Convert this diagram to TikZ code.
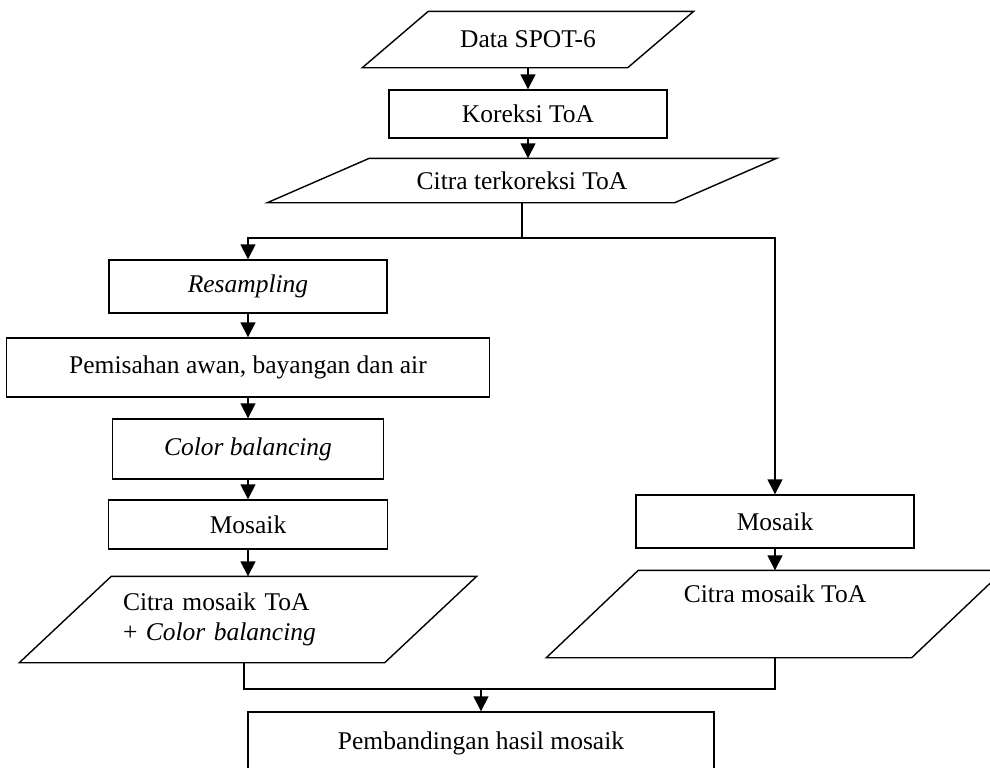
\documentclass[tikz,border=0pt]{standalone}
\usepackage{fontspec}
\setmainfont{Liberation Serif}
\usetikzlibrary{arrows.meta,calc}

\begin{document}
\begin{tikzpicture}[x=0.5pt,y=-0.5pt,line width=0.7pt,
    font=\fontsize{12.75}{15}\selectfont,
    proc/.style={draw,rectangle,inner sep=2pt},
    band/.style={rectangle,inner sep=2pt},
    arr/.style={-{Triangle[width=7.5pt,length=7.5pt]}}]
    \useasboundingbox (0,0) rectangle (990,767);

    % input / output bands (parallelograms drawn below)
    \node[band,minimum width=132pt,minimum height=27.5pt] (spot) at (528,39.5) {Data SPOT-6};
    \node[band,minimum width=203pt,minimum height=21.5pt] (terk) at (522,180.5) {Citra terkoreksi ToA};
    \node[band,minimum height=42.5pt,text width=125pt,inner xsep=28.5pt,align=left] (cml) at (248,619.5) {Citra mosaik ToA\\+ \textit{Color balancing}};
    \node[band,minimum width=182pt,minimum height=43pt,text depth=20pt] (cmr) at (775,614) {Citra mosaik ToA};

    \foreach \n/\s in {spot/33, terk/51, cml/46, cmr/46}
        \draw ($(\n.north west)+(\s,0)$) -- ($(\n.north east)+(\s,0)$)
           -- ($(\n.south east)-(\s,0)$) -- ($(\n.south west)-(\s,0)$) -- cycle;

    % process boxes
    \node[proc,minimum width=139pt,minimum height=24pt] (koreksi) at (528,114) {Koreksi ToA};
    \node[proc,minimum width=139pt,minimum height=26.5pt] (resamp) at (248,286.5) {\textit{Resampling}};
    \node[proc,minimum width=241.5pt,minimum height=29.5pt] (pemis) at (248,367.5) {Pemisahan awan, bayangan dan air};
    \node[proc,minimum width=135.5pt,minimum height=30pt] (colbal) at (248,449) {\textit{Color balancing}};
    \node[proc,minimum width=139.5pt,minimum height=24.5pt] (mosl) at (248,524.5) {Mosaik};
    \node[proc,minimum width=139pt,minimum height=26.5pt] (mosr) at (775,521.5) {Mosaik};
    \node[proc,minimum width=233pt,minimum height=31pt] (banding) at (481,743) {Pembandingan hasil mosaik};

    % connectors
    \draw[arr] (spot) -- (koreksi);
    \draw[arr] (koreksi) -- (terk.north -| koreksi);
    \coordinate (split) at (terk.south |- 0,238);
    \draw (terk.south) -- (split);
    \draw[arr] (split) -| (resamp.north);
    \draw[arr] (split) -| (mosr.north);
    \draw[arr] (resamp) -- (pemis);
    \draw[arr] (pemis) -- (colbal);
    \draw[arr] (colbal) -- (mosl);
    \draw[arr] (mosl) -- (cml);
    \draw[arr] (mosr) -- (cmr);
    \coordinate (join) at (banding.north |- 0,689);
    \draw ([xshift=-2pt]cml.south) |- (join) -| (cmr.south);
    \draw[arr] (join) -- (banding);
\end{tikzpicture}
\end{document}
